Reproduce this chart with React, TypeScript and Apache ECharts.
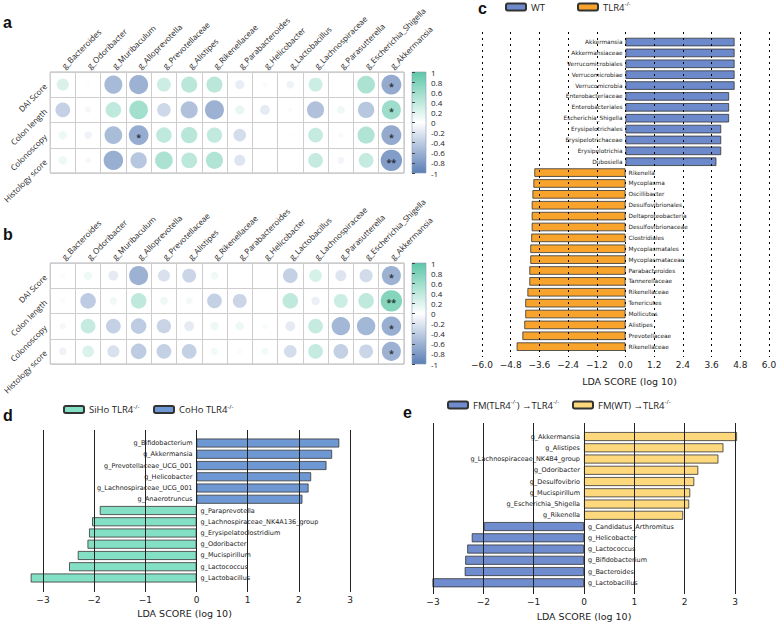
import React, { useEffect, useRef } from 'react';
import * as echarts from 'echarts';

// ---------- panel a / b : correlation bubble matrices ----------
const genera = ['g_Bacteroides', 'g_Odoribacter', 'g_Muribaculum', 'g_Alloprevotella', 'g_Prevotellaceae', 'g_Alistipes', 'g_Rikenellaceae', 'g_Parabacteroides', 'g_Helicobacter', 'g_Lactobacillus', 'g_Lachnospiraceae', 'g_Parasutterella', 'g_Escherichia_Shigella', 'g_Akkermansia'];
const clinical = ['DAI Score', 'Colon length', 'Colonoscopy', 'Histology score'];

const aDAI = [0.3, 0.03, -0.67, -0.75, 0.4, 0.53, 0.53, -0.17, -0.05, -0.12, 0.4, 0.02, 0.65, -0.82];
const aColon = [-0.45, -0.08, 0.5, 0.72, -0.38, -0.6, -0.75, 0.17, -0.2, -0.04, -0.6, 0.13, -0.55, 0.75];
const aScopy = [0.15, -0.12, -0.65, -0.8, 0.5, 0.55, 0.48, -0.33, 0, -0.02, 0.45, 0.07, 0.6, -0.82];
const aHisto = [0.15, -0.07, -0.78, -0.55, 0.65, 0.52, 0.6, -0.25, 0.02, -0.01, 0.45, -0.1, 0.45, -0.95];
const aSig: [number, number, string][] = [[3, 2, '*'], [13, 0, '*'], [13, 1, '*'], [13, 2, '*'], [13, 3, '**']];

const bDAI = [0.05, 0.15, -0.2, -0.75, -0.3, -0.4, 0.12, -0.02, 0.02, -0.45, 0.33, -0.25, -0.35, -0.75];
const bColon = [0.05, -0.5, 0.12, 0.5, 0.13, 0.1, -0.45, -0.4, 0, 0.5, -0.15, 0.4, 0.5, 0.95];
const bScopy = [-0.08, 0.45, -0.45, -0.5, -0.42, -0.2, 0.15, 0.15, 0.07, -0.2, 0.45, -0.7, -0.7, -0.78];
const bHisto = [-0.12, 0.28, -0.3, -0.5, -0.45, -0.45, 0.1, 0.06, 0.1, -0.33, 0.45, -0.45, -0.4, -0.75];
const bSig: [number, number, string][] = [[13, 0, '*'], [13, 1, '**'], [13, 2, '*'], [13, 3, '*']];

// ---------- panel c : LEfSe WT vs TLR4-/- ----------
const cNamesWT = ['Akkermansia', 'Akkermansiaceae', 'Verrucomicrobiales', 'Verrucomicrobiae', 'Verrucomicrobia', 'Enterobacteriaceae', 'Enterobacteriales', 'Escherichia_Shigella', 'Erysipelotrichales', 'Erysipelotrichaceae', 'Erysipelotrichia', 'Dubosiella'];
const cLdaWT = [4.56, 4.56, 4.56, 4.56, 4.56, 4.33, 4.33, 4.33, 4.0, 4.0, 4.0, 3.8];
const cNamesKO = ['Rikenella', 'Mycoplasma', 'Oscillibacter', 'Desulfovibrionales', 'Deltaproteobacteria', 'Desulfovibrionaceae', 'Clostridiales', 'Mycoplasmatales', 'Mycoplasmataceae', 'Parabacteroides', 'Tannerellaceae', 'Rikenellaceae', 'Tenericutes', 'Mollicutes', 'Alistipes', 'Prevotellaceae', 'Rikenellaceae'];
const cLdaKO = [-3.81, -3.85, -3.89, -3.92, -3.92, -3.92, -3.94, -3.98, -3.98, -4.02, -4.02, -4.1, -4.19, -4.19, -4.23, -4.31, -4.55];

// ---------- panel d : SiHo vs CoHo ----------
const dNamesCoHo = ['g_Bifidobacterium', 'g_Akkermansia', 'g_Prevotellaceae_UCG_001', 'g_Helicobacter', 'g_Lachnospiraceae_UCG_001', 'g_Anaerotruncus'];
const dLdaCoHo = [2.79, 2.65, 2.54, 2.24, 2.19, 2.07];
const dNamesSiHo = ['g_Paraprevotella', 'g_Lachnospiraceae_NK4A136_group', 'g_Erysipelatoclostridium', 'g_Odoribacter', 'g_Mucispirillum', 'g_Lactococcus', 'g_Lactobacillus'];
const dLdaSiHo = [-1.89, -2.04, -2.1, -2.13, -2.32, -2.49, -3.24];

// ---------- panel e : FM(WT) vs FM(TLR4-/-) ----------
const eNamesWT = ['g_Akkermansia', 'g_Alistipes', 'g_Lachnospiraceae_NK4B4_group', 'g_Odoribacter', 'g_Desulfovibrio', 'g_Mucispirillum', 'g_Escherichia_Shigella', 'g_Rikenella'];
const eLdaWT = [3.04, 2.77, 2.67, 2.27, 2.19, 2.11, 2.09, 1.97];
const eNamesKO = ['g_Candidatus_Arthromitus', 'g_Helicobacter', 'g_Lactococcus', 'g_Bifidobacterium', 'g_Bacteroides', 'g_Lactobacillus'];
const eLdaKO = [-1.99, -2.23, -2.32, -2.36, -2.37, -3.01];

const colorbarTicks = { min: -1, max: 1, interval: 0.2 };
const cmap = ['#5b7fb6', '#ffffff', '#5ec7a8'];

function corrData(rows: number[][], sig: [number, number, string][]) {
  const out: any[] = [];
  rows.forEach((row, r) =>
    row.forEach((v, c) => {
      const s = sig.find((t) => t[0] === c && t[1] === r);
      out.push(s ? { value: [c, r, v], label: { show: true, formatter: s[2] } } : { value: [c, r, v] });
    })
  );
  return out;
}

const pad = (n: number) => Array(n).fill('-');

export default function App() {
  const ref = useRef<HTMLDivElement>(null);
  useEffect(() => {
    if (!ref.current) return;
    const chart = echarts.init(ref.current, undefined, { renderer: 'svg' });

    const lblFont = { fontFamily: 'Open Sans', fontSize: 8, color: '#222' };
    const cellLine = { show: true, interval: 0, lineStyle: { color: '#cdcdcd', width: 1 } };

    const corrX = (gi: number) => ({
      type: 'category', gridIndex: gi, position: 'top', data: genera,
      axisLine: { show: false }, axisTick: { show: false }, splitLine: cellLine,
      axisLabel: { interval: 0, rotate: -45, margin: 5, ...lblFont },
    });
    const corrY = (gi: number) => ({
      type: 'category', gridIndex: gi, inverse: true, data: clinical,
      axisLine: { show: false }, axisTick: { show: false }, splitLine: cellLine,
      axisLabel: { interval: 0, rotate: 45, margin: 5, ...lblFont },
    });
    const cbY = (gi: number) => ({
      type: 'value', gridIndex: gi, position: 'right', ...colorbarTicks,
      axisLine: { show: false }, splitLine: { show: false },
      axisTick: { show: true, length: 3, lineStyle: { color: '#444' } },
      axisLabel: { margin: 5, fontFamily: 'Open Sans', fontSize: 8, color: '#222' },
    });
    const hiddenVal = (gi: number, min = 0, max = 1) => ({ type: 'value', gridIndex: gi, show: false, min, max });
    const hiddenCat = (gi: number, n: number) => ({ type: 'category', gridIndex: gi, show: false, inverse: true, data: Array.from({ length: n }, (_, i) => String(i)) });

    const ldaAxis = (gi: number, min: number, max: number, interval: number, dotted: boolean, fmt: (v: number) => string, nameGap: number, namePad: number[], margin: number) => ({
      type: 'value', gridIndex: gi, min, max, interval, z: 5,
      axisLine: { show: false }, axisTick: { show: false },
      splitLine: { show: true, lineStyle: { color: dotted ? '#000' : '#222', width: 1, type: dotted ? [2, 4] : 'solid' } },
      axisLabel: { margin, fontFamily: 'DejaVu Sans', fontSize: 9, color: '#222', formatter: fmt },
      name: 'LDA SCORE (log 10)', nameLocation: 'middle', nameGap,
      nameTextStyle: { fontFamily: 'DejaVu Sans', fontSize: 9.5, color: '#222', padding: namePad },
    });
    const fmt1 = (v: number) => (v < 0 ? '\u2212' : '') + Math.abs(v).toFixed(1);
    const fmt0 = (v: number) => (v < 0 ? '\u2212' : '') + Math.abs(Math.round(v));

    const barStyle = (color: string) => ({ color, borderColor: '#333', borderWidth: 0.8 });
    const barLabel = (pos: string, names: string[], offset: number, fontSize: number, distance: number) => ({
      show: true, position: pos, distance, fontFamily: 'DejaVu Sans', fontSize, color: '#222',
      formatter: (p: any) => names[p.dataIndex - offset] ?? '',
    });

    const cCount = cNamesWT.length + cNamesKO.length;
    const dCount = dNamesCoHo.length + dNamesSiHo.length;
    const eCount = eNamesWT.length + eNamesKO.length;

    const legendNames: Record<string, string> = {
      WT: 'WT',
      TLR4: 'TLR4{s|-/-}',
      SiHo: 'SiHo TLR4{s|-/-}',
      CoHo: 'CoHo TLR4{s|-/-}',
      FMKO: 'FM(TLR4{s|-/-}) \u2192TLR4{s|-/-}',
      FMWT: 'FM(WT) \u2192TLR4{s|-/-}',
    };
    const legend = (name: string, left: number, top: number) => ({
      data: [name], left, top, padding: 0, itemWidth: 20, itemHeight: 7, selectedMode: false,
      formatter: (n: string) => legendNames[n],
      textStyle: {
        fontFamily: 'Open Sans', fontSize: 9.5, color: '#222', lineHeight: 12,
        rich: { s: { fontFamily: 'Open Sans', fontSize: 6, verticalAlign: 'top', lineHeight: 12 } },
      },
    });

    const letter = (t: string, x: number, y: number) => ({
      type: 'text', x, y,
      style: { text: t, fontFamily: 'Liberation Sans', fontWeight: 'bold', fontSize: 16, fill: '#111', verticalAlign: 'middle' },
    });
    const colorbar = (y: number) => ({
      type: 'rect', x: 412, y, shape: { x: 0, y: 0, width: 14, height: 101 },
      style: {
        fill: { type: 'linear', x: 0, y: 0, x2: 0, y2: 1, colorStops: [{ offset: 0, color: cmap[2] }, { offset: 0.5, color: cmap[1] }, { offset: 1, color: cmap[0] }] },
        stroke: '#8a9bb5', lineWidth: 0.6,
      },
    });

    const scatter = (idx: number, rows: number[][], sig: [number, number, string][]) => ({
      type: 'scatter', xAxisIndex: idx, yAxisIndex: idx, data: corrData(rows, sig),
      symbolSize: (v: number[]) => 22 * Math.sqrt(Math.abs(v[2])),
      label: { show: false, position: 'inside', color: '#111', fontSize: 9, fontWeight: 'bold', offset: [0, 2] },
      emphasis: { disabled: true },
    });

    chart.setOption({
      animation: false,
      textStyle: { fontFamily: 'Open Sans' },
      grid: [
        { left: 50, top: 72, width: 354, height: 101, show: true, borderColor: '#b5b5b5', borderWidth: 1 },
        { left: 50, top: 263, width: 354, height: 101, show: true, borderColor: '#b5b5b5', borderWidth: 1 },
        { left: 412, top: 72, width: 14, height: 101 },
        { left: 412, top: 263, width: 14, height: 101 },
        { left: 482, top: 32, width: 287, height: 325 },
        { left: 482, top: 36.6, width: 287, height: 315.5 },
        { left: 43, top: 430, width: 307, height: 162 },
        { left: 43, top: 437.4, width: 307, height: 146.2 },
        { left: 433, top: 423, width: 302, height: 172 },
        { left: 433, top: 430.9, width: 302, height: 157.5 },
      ],
      xAxis: [
        corrX(0), corrX(1),
        hiddenVal(2), hiddenVal(3),
        ldaAxis(4, -6, 6, 1.2, true, fmt1, 19, [0, 0, 0, 8], 3),
        hiddenVal(5, -6, 6),
        ldaAxis(6, -3, 3, 1, false, fmt0, 16, [0, 24, 0, 0], 3),
        hiddenVal(7, -3, 3),
        ldaAxis(8, -3, 3, 1, false, fmt0, 17, [0, 0, 0, 0], 3),
        hiddenVal(9, -3, 3),
      ],
      yAxis: [
        corrY(0), corrY(1),
        cbY(2), cbY(3),
        hiddenVal(4), hiddenCat(5, cCount),
        hiddenVal(6), hiddenCat(7, dCount),
        hiddenVal(8), hiddenCat(9, eCount),
      ],
      visualMap: [
        { show: false, type: 'continuous', seriesIndex: 0, dimension: 2, min: -1, max: 1, inRange: { color: cmap } },
        { show: false, type: 'continuous', seriesIndex: 1, dimension: 2, min: -1, max: 1, inRange: { color: cmap } },
      ],
      legend: [
        legend('WT', 505, 1),
        legend('TLR4', 577, 1),
        legend('SiHo', 63, 403.5),
        legend('CoHo', 153, 403.5),
        legend('FMKO', 447, 399),
        legend('FMWT', 572, 399),
      ],
      series: [
        scatter(0, [aDAI, aColon, aScopy, aHisto], aSig),
        scatter(1, [bDAI, bColon, bScopy, bHisto], bSig),
        {
          name: 'WT', type: 'bar', xAxisIndex: 5, yAxisIndex: 5, barWidth: 8.5, barGap: '-100%', clip: false,
          data: [...cLdaWT, ...pad(cNamesKO.length)], itemStyle: barStyle('#6c89cc'),
          label: barLabel('left', cNamesWT, 0, 5.8, 3),
        },
        {
          name: 'TLR4', type: 'bar', xAxisIndex: 5, yAxisIndex: 5, barWidth: 8.5, barGap: '-100%', clip: false,
          data: [...pad(cNamesWT.length), ...cLdaKO], itemStyle: barStyle('#f7a32c'),
          label: barLabel('right', cNamesKO, cNamesWT.length, 5.8, 3),
        },
        {
          name: 'SiHo', type: 'bar', xAxisIndex: 7, yAxisIndex: 7, barWidth: 9, barGap: '-100%', clip: false,
          data: [...pad(dNamesCoHo.length), ...dLdaSiHo], itemStyle: barStyle('#84e0c5'),
          label: barLabel('right', dNamesSiHo, dNamesCoHo.length, 6.5, 4),
        },
        {
          name: 'CoHo', type: 'bar', xAxisIndex: 7, yAxisIndex: 7, barWidth: 9, barGap: '-100%', clip: false,
          data: [...dLdaCoHo, ...pad(dNamesSiHo.length)], itemStyle: barStyle('#6e98d3'),
          label: barLabel('left', dNamesCoHo, 0, 6.5, 4),
        },
        {
          name: 'FMKO', type: 'bar', xAxisIndex: 9, yAxisIndex: 9, barWidth: 9, barGap: '-100%', clip: false,
          data: [...pad(eNamesWT.length), ...eLdaKO], itemStyle: barStyle('#6f8ccf'),
          label: barLabel('right', eNamesKO, eNamesWT.length, 6.5, 4),
        },
        {
          name: 'FMWT', type: 'bar', xAxisIndex: 9, yAxisIndex: 9, barWidth: 9, barGap: '-100%', clip: false,
          data: [...eLdaWT, ...pad(eNamesKO.length)], itemStyle: barStyle('#fdd87c'),
          label: barLabel('left', eNamesWT, 0, 6.5, 4),
        },
      ],
      graphic: [
        letter('a', 3, 22.7),
        letter('b', 3, 234),
        letter('c', 478, 8.5),
        letter('d', 3, 415),
        letter('e', 403, 412.7),
        colorbar(72),
        colorbar(263),
      ],
    });
    return () => chart.dispose();
  }, []);

  return <div ref={ref} style={{ position: 'fixed', left: 0, top: 0, width: 780, height: 622, background: '#fff' }} />;
}
